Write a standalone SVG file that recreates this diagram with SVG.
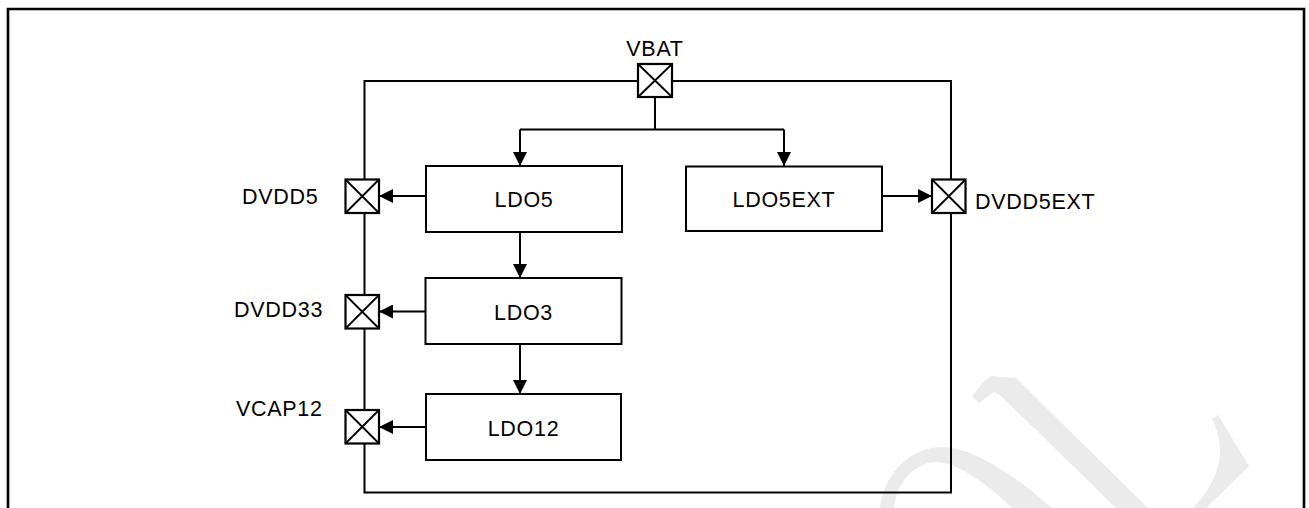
<svg xmlns="http://www.w3.org/2000/svg" width="1309" height="508" viewBox="0 0 1309 508">
<defs>
<style>
.frame{fill:none;stroke:#000;stroke-width:2.6}
.chip{fill:none;stroke:#000;stroke-width:2}
.box{fill:#fff;stroke:#000;stroke-width:2}
.pad{fill:#fff;stroke:#000;stroke-width:2.2}
.x{stroke:#000;stroke-width:1.8}
.wire{fill:none;stroke:#000;stroke-width:2}
.lbl{font-family:"Liberation Sans",Arial,sans-serif;font-size:21.5px;letter-spacing:0.7px;fill:#000}
.wm{fill:#ebebeb}
</style>
<marker id="arr" viewBox="0 0 14 14" refX="14" refY="7" markerWidth="14" markerHeight="14" markerUnits="userSpaceOnUse" orient="auto">
<path d="M0,0 L14,7 L0,14 Z" fill="#000"/>
</marker>
</defs>
<rect width="1309" height="508" fill="#fff"/>
<g id="watermark">
<path class="wm" d="M985,380 L992,376 L1016,378 L1148,508 L1116,508 L1001,396 L994,392 L979,403 L972,396 Z"/>
<path class="wm" d="M880,508 C884,472 912,447 942,447 C975,447 1020,480 1052,508 L1012,508 C985,482 955,461 934,462 C912,464 896,485 894,508 Z"/>
<path class="wm" d="M1212,419 L1218,415 L1249,466 L1206,508 L1193,508 C1215,485 1230,455 1212,419 Z"/>
</g>
<path class="frame" d="M8,520 L8,9 L1304,9 L1304,520"/>
<rect id="chip" class="chip" x="364.5" y="81" width="586.5" height="411.5"/>
<g id="connectors">
<path class="wire" d="M655,97 L655,129.5 M520,129.5 L784,129.5"/>
<path class="wire" d="M520,129.5 L520,166" marker-end="url(#arr)"/>
<path class="wire" d="M784,129.5 L784,166" marker-end="url(#arr)"/>
<path class="wire" d="M426,196 L379,196" marker-end="url(#arr)"/>
<path class="wire" d="M882,196 L932,196" marker-end="url(#arr)"/>
<path class="wire" d="M520,232 L520,278" marker-end="url(#arr)"/>
<path class="wire" d="M426,311.5 L379,311.5" marker-end="url(#arr)"/>
<path class="wire" d="M520,344 L520,394" marker-end="url(#arr)"/>
<path class="wire" d="M426,427 L379,427" marker-end="url(#arr)"/>
</g>
<g id="VBAT">
<rect class="pad" x="638" y="64" width="34" height="33"/>
<path class="x" d="M638,64 L672,97 M672,64 L638,97"/>
<text class="lbl" x="655" y="55.5" text-anchor="middle">VBAT</text>
</g>
<g id="DVDD5">
<rect class="pad" x="345.5" y="179.5" width="33.5" height="33.5"/>
<path class="x" d="M345.5,179.5 L379,213 M379,179.5 L345.5,213"/>
<text class="lbl" x="242" y="204">DVDD5</text>
</g>
<g id="DVDD33">
<rect class="pad" x="345.5" y="295" width="33.5" height="33.5"/>
<path class="x" d="M345.5,295 L379,328.5 M379,295 L345.5,328.5"/>
<text class="lbl" x="234" y="316.5">DVDD33</text>
</g>
<g id="VCAP12">
<rect class="pad" x="345.5" y="410" width="33.5" height="33.5"/>
<path class="x" d="M345.5,410 L379,443.5 M379,410 L345.5,443.5"/>
<text class="lbl" x="236" y="416">VCAP12</text>
</g>
<g id="DVDD5EXT">
<rect class="pad" x="932" y="179.5" width="33.5" height="33.5"/>
<path class="x" d="M932,179.5 L965.5,213 M965.5,179.5 L932,213"/>
<text class="lbl" x="975" y="209">DVDD5EXT</text>
</g>
<g id="LDO5">
<rect class="box" x="426" y="166" width="196" height="66"/>
<text class="lbl" x="524" y="207" text-anchor="middle">LDO5</text>
</g>
<g id="LDO5EXT">
<rect class="box" x="686" y="166.5" width="196" height="64.5"/>
<text class="lbl" x="784" y="207" text-anchor="middle">LDO5EXT</text>
</g>
<g id="LDO3">
<rect class="box" x="425.5" y="278" width="196" height="66"/>
<text class="lbl" x="523.5" y="320" text-anchor="middle">LDO3</text>
</g>
<g id="LDO12">
<rect class="box" x="426" y="394" width="195" height="66"/>
<text class="lbl" x="523.5" y="436" text-anchor="middle">LDO12</text>
</g>
</svg>
